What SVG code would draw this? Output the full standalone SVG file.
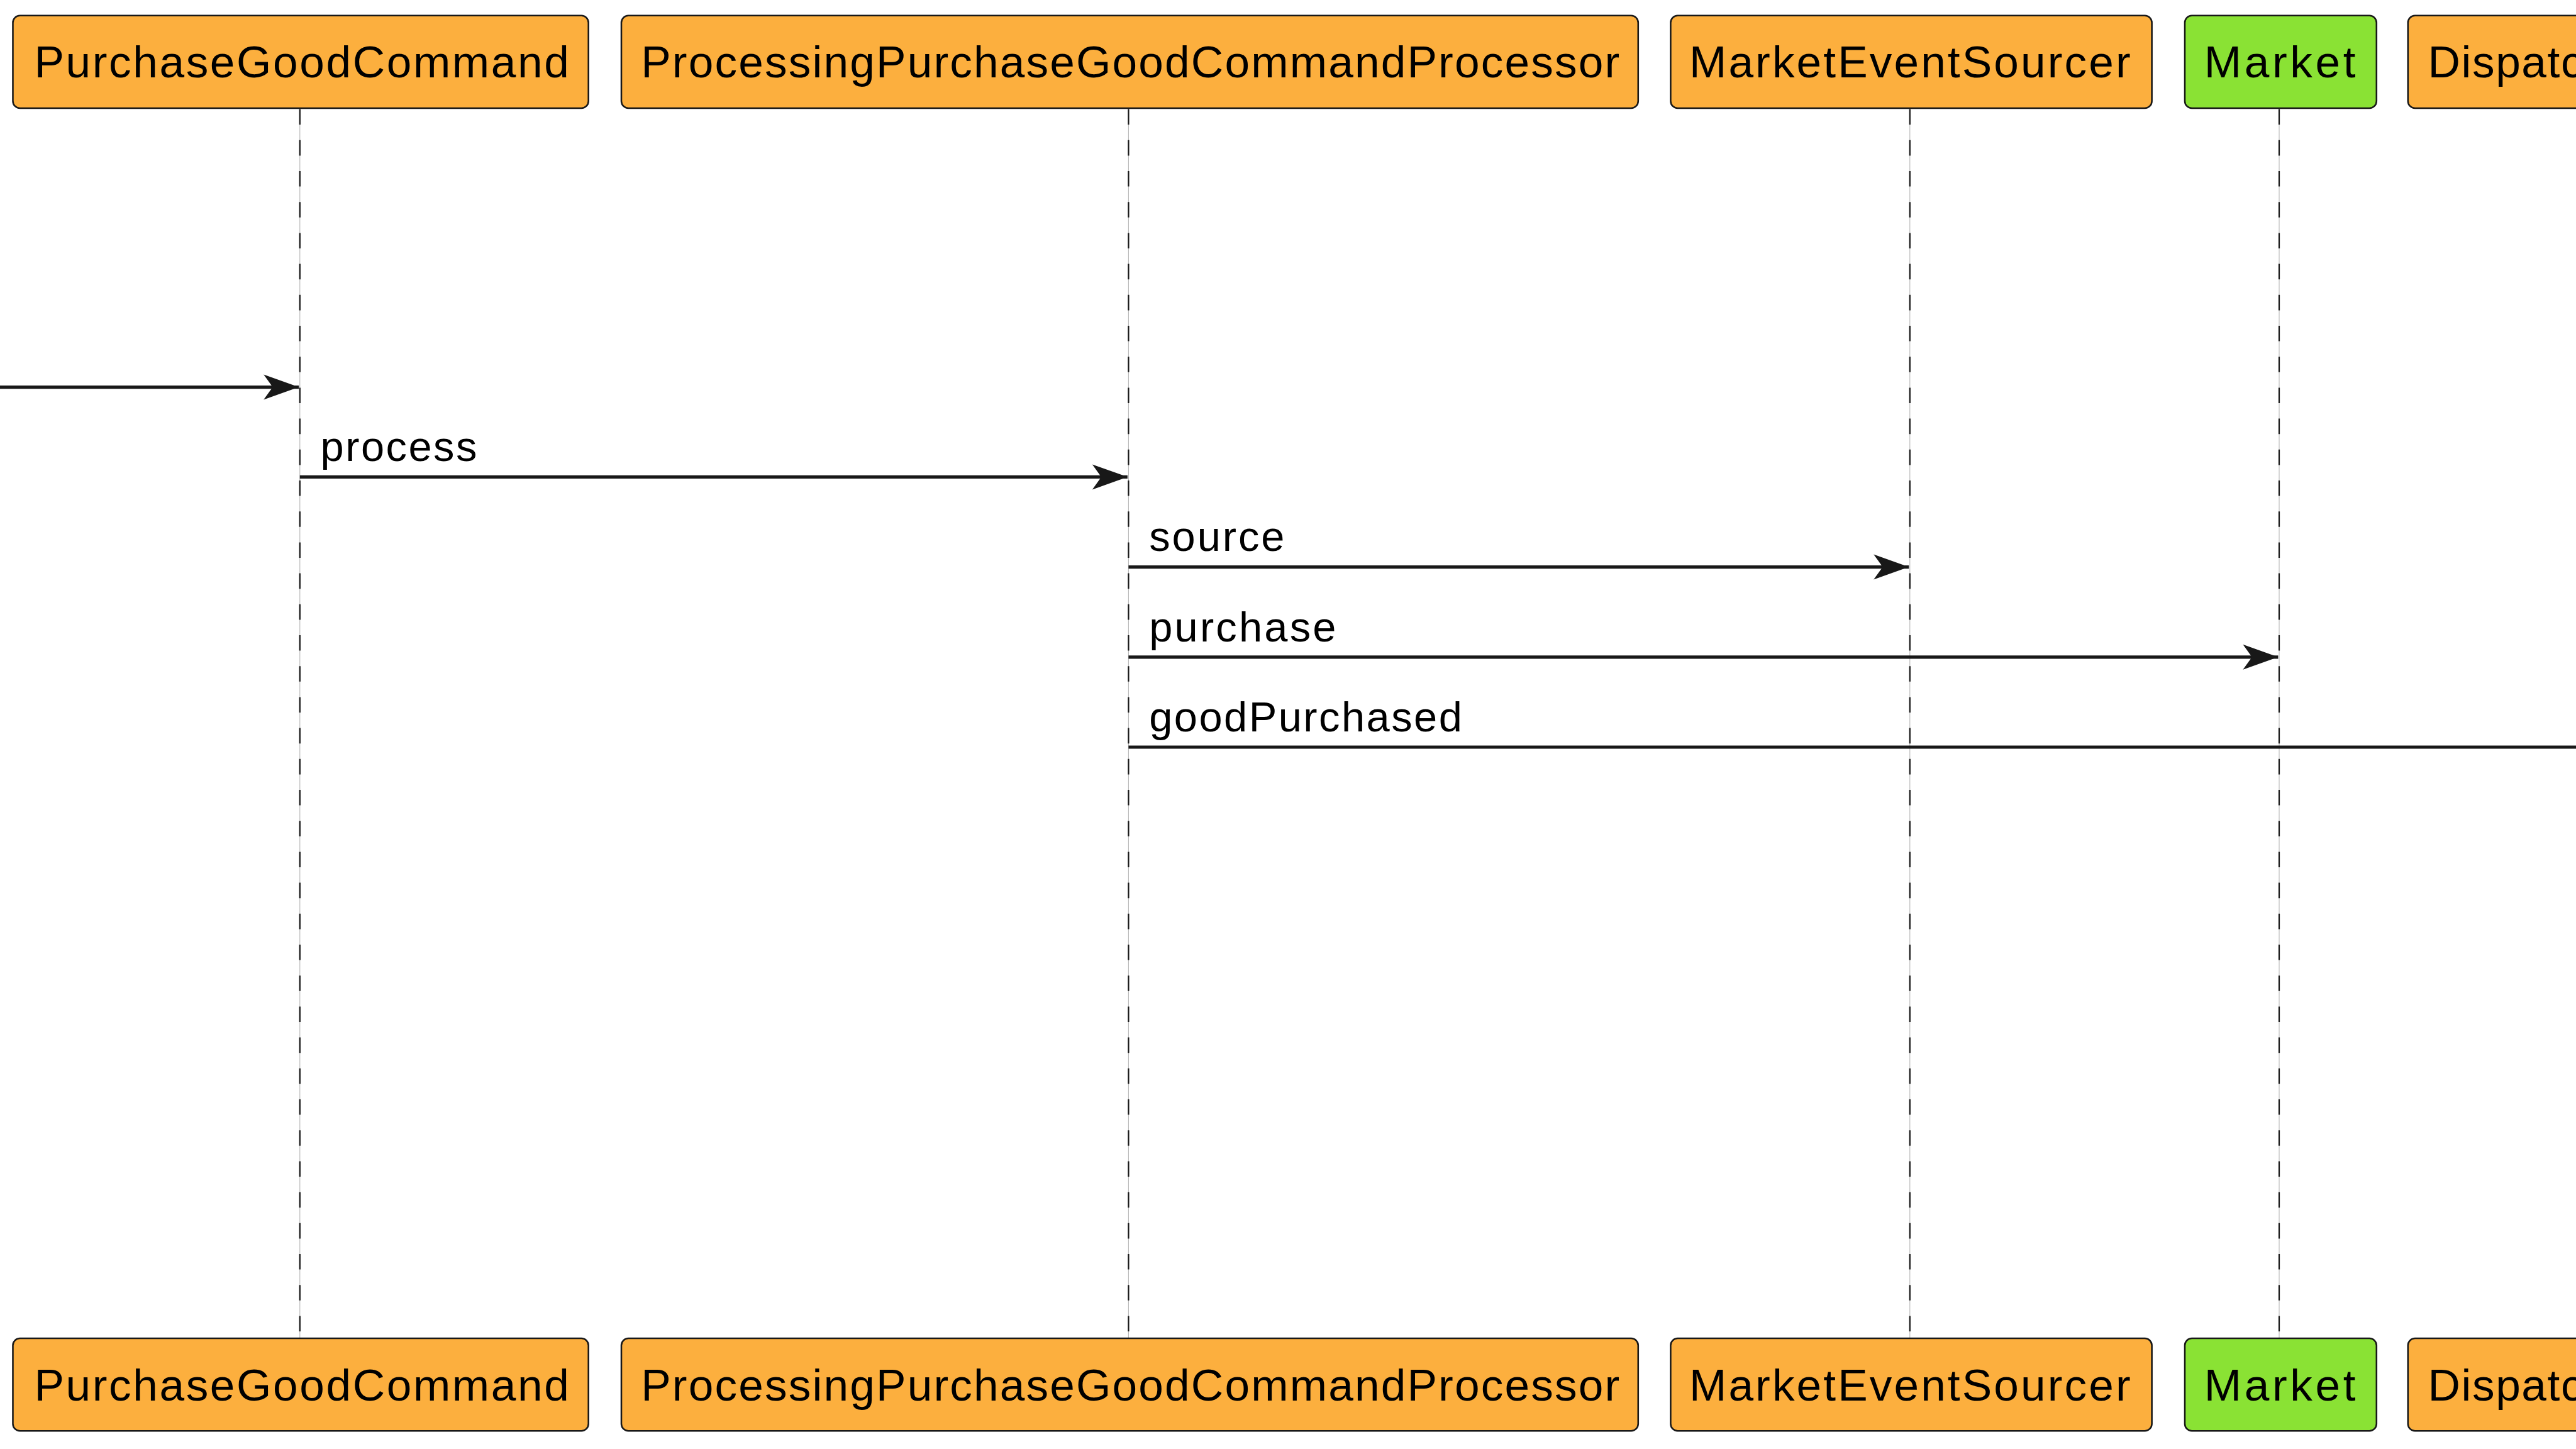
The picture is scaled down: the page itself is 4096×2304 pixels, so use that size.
<svg xmlns="http://www.w3.org/2000/svg" width="4096" height="2304" viewBox="0 0 4096 2304">
<style>
.box{stroke:#181818;stroke-width:3.2}
.orange{fill:#FCAF3E}
.green{fill:#8AE234}
.pt{font-family:"Liberation Sans",Arial,sans-serif;font-size:89px;fill:#000000}
.mt{font-family:"Liberation Sans",Arial,sans-serif;font-size:83.5px;fill:#000000}
.life{stroke:#181818;stroke-width:2.8;stroke-dasharray:30.75 30.75;fill:none}
.lifebase{stroke:#9a9a9a;stroke-width:1;fill:none}
.msg{stroke:#181818;stroke-width:6.5;fill:none}
</style>
<defs>
<marker id="ah" markerUnits="userSpaceOnUse" viewBox="-72 -27 74 54" refX="0" refY="0" markerWidth="74" markerHeight="54" orient="auto">
<path d="M0,0 L-70,-25 L-52,0 L-70,25 Z" fill="#181818"/>
</marker>
</defs>
<rect width="4096" height="2304" fill="#FFFFFF"/>
<g transform="scale(0.8)">
<g id="lifelines">
<line class="lifebase" x1="596" y1="215" x2="596" y2="2660"/>
<line class="life" x1="596" y1="217" x2="596" y2="2660"/>
<line class="lifebase" x1="2243" y1="215" x2="2243" y2="2660"/>
<line class="life" x1="2243" y1="217" x2="2243" y2="2660"/>
<line class="lifebase" x1="3796" y1="215" x2="3796" y2="2660"/>
<line class="life" x1="3796" y1="217" x2="3796" y2="2660"/>
<line class="lifebase" x1="4530" y1="215" x2="4530" y2="2660"/>
<line class="life" x1="4530" y1="217" x2="4530" y2="2660"/>
</g>
<g id="PurchaseGoodCommand">
<rect class="box orange" x="25.6" y="31" width="1144" height="184" rx="14"/>
<text class="pt" x="68" y="154" textLength="1063" lengthAdjust="spacing">PurchaseGoodCommand</text>
</g>
<g id="ProcessingPurchaseGoodCommandProcessor">
<rect class="box orange" x="1235" y="31" width="2021" height="184" rx="14"/>
<text class="pt" x="1274" y="154" textLength="1945" lengthAdjust="spacing">ProcessingPurchaseGoodCommandProcessor</text>
</g>
<g id="MarketEventSourcer">
<rect class="box orange" x="3320.5" y="31" width="956.5" height="184" rx="14"/>
<text class="pt" x="3357.5" y="154" textLength="877" lengthAdjust="spacing">MarketEventSourcer</text>
</g>
<g id="Market">
<rect class="box green" x="4342.5" y="31" width="381" height="184" rx="14"/>
<text class="pt" x="4381" y="154" textLength="301" lengthAdjust="spacing">Market</text>
</g>
<g id="Dispatcher">
<rect class="box orange" x="4786" y="31" width="600" height="184" rx="14"/>
<text class="pt" x="4825.7" y="154" letter-spacing="2">Dispatcher</text>
</g>
<g id="PurchaseGoodCommand-bottom">
<rect class="box orange" x="25.6" y="2660" width="1144" height="184" rx="14"/>
<text class="pt" x="68" y="2783.3" textLength="1063" lengthAdjust="spacing">PurchaseGoodCommand</text>
</g>
<g id="ProcessingPurchaseGoodCommandProcessor-bottom">
<rect class="box orange" x="1235" y="2660" width="2021" height="184" rx="14"/>
<text class="pt" x="1274" y="2783.3" textLength="1945" lengthAdjust="spacing">ProcessingPurchaseGoodCommandProcessor</text>
</g>
<g id="MarketEventSourcer-bottom">
<rect class="box orange" x="3320.5" y="2660" width="956.5" height="184" rx="14"/>
<text class="pt" x="3357.5" y="2783.3" textLength="877" lengthAdjust="spacing">MarketEventSourcer</text>
</g>
<g id="Market-bottom">
<rect class="box green" x="4342.5" y="2660" width="381" height="184" rx="14"/>
<text class="pt" x="4381" y="2783.3" textLength="301" lengthAdjust="spacing">Market</text>
</g>
<g id="Dispatcher-bottom">
<rect class="box orange" x="4786" y="2660" width="600" height="184" rx="14"/>
<text class="pt" x="4825.7" y="2783.3" letter-spacing="2">Dispatcher</text>
</g>
<g id="connectors">
<line class="msg" x1="-20" y1="769.5" x2="594" y2="769.5" marker-end="url(#ah)"/>
<line class="msg" x1="596" y1="948" x2="2241" y2="948" marker-end="url(#ah)"/>
<text class="mt" x="637" y="916.5" textLength="311" lengthAdjust="spacing">process</text>
<line class="msg" x1="2243" y1="1127" x2="3794" y2="1127" marker-end="url(#ah)"/>
<text class="mt" x="2284" y="1095.5" textLength="269" lengthAdjust="spacing">source</text>
<line class="msg" x1="2243" y1="1306" x2="4528" y2="1306" marker-end="url(#ah)"/>
<text class="mt" x="2284" y="1274.5" textLength="371.5" lengthAdjust="spacing">purchase</text>
<line class="msg" x1="2243" y1="1485" x2="5200" y2="1485"/>
<text class="mt" x="2284" y="1453.5" textLength="622" lengthAdjust="spacing">goodPurchased</text>
</g>
</g>
</svg>
